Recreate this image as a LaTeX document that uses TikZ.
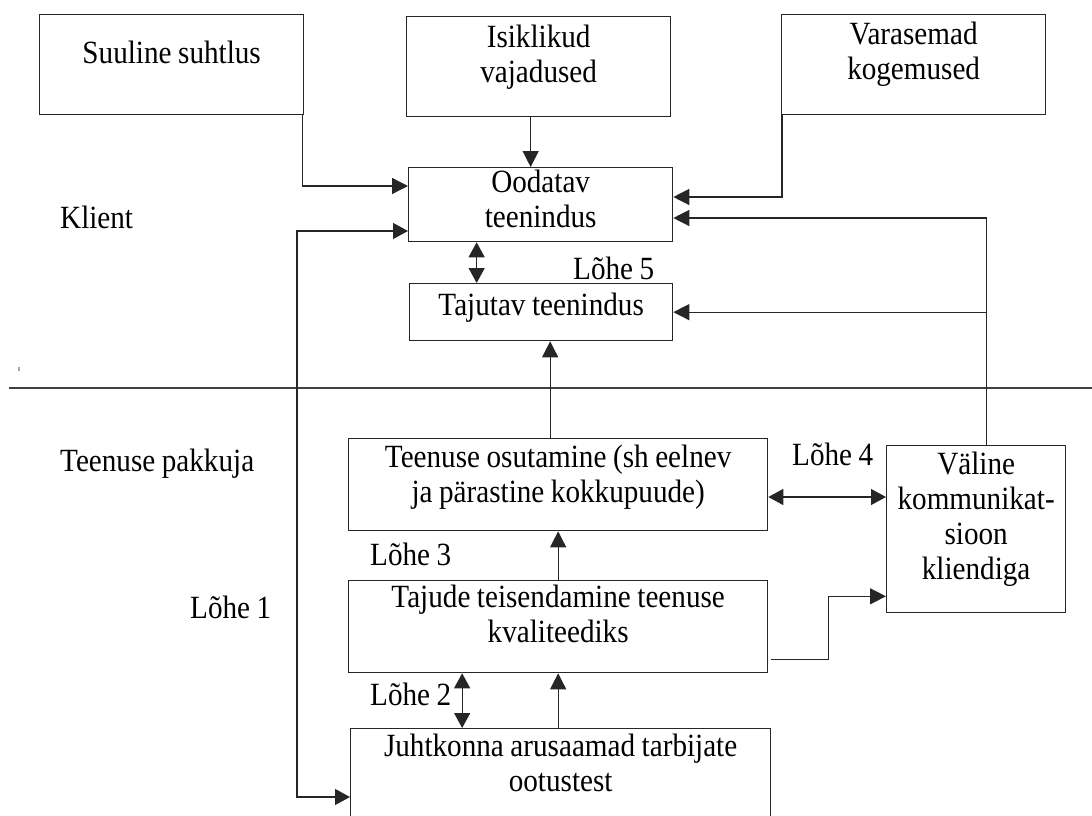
\documentclass[tikz,border=0pt]{standalone}
\usepackage{fontspec}
\setmainfont{Liberation Serif}[FakeStretch=0.9, WordSpace=0.9]
\usetikzlibrary{arrows.meta,positioning,calc}

\begin{document}
\begin{tikzpicture}[
        x=1pt, y=-1pt,
        font=\fontsize{32.4}{35}\selectfont,
        box/.style={draw=black!85, line width=1.3pt, align=flush center, inner sep=0pt, anchor=north west},
        arr/.style={draw=black!85, line width=1.3pt, -{Triangle[length=16pt, width=16pt]}},
        dbl/.style={draw=black!85, line width=1.3pt, {Triangle[length=15pt, width=16pt]}-{Triangle[length=15pt, width=16pt]}},
        lbl/.style={anchor=base west, inner sep=0pt},
    ]
    \clip (0,0) rectangle (1092,816);

    % Client side
    \node[box, text width=264pt, text height=49pt, text depth=51pt] (suuline) at (39,14) {Suuline suhtlus};
    \node[box, text width=264pt, text height=31pt, text depth=69pt] (isiklikud) at (406,16) {Isiklikud\\vajadused};
    \node[box, text width=264pt, text height=30pt, text depth=70pt] (varasemad) at (781,14) {Varasemad\\kogemused};
    \node[box, text width=264pt, text height=25pt, text depth=49pt] (oodatav) at (408,167) {Oodatav\\teenindus};
    \node[box, text width=263pt, text height=32pt, text depth=25pt] (tajutav) at (409,283) {Tajutav teenindus};

    % Divider
    \draw[line width=1.3pt, black!75] (9,388) -- (1092,388);
    \draw[line width=1.5pt, black!35] (19,367) -- (19,371);

    % Provider side
    \node[box, text width=419pt, text height=29pt, text depth=63pt] (osutamine) at (348,438) {Teenuse osutamine (sh eelnev\\ja pärastine kokkupuude)};
    \node[box, text width=419pt, text height=27pt, text depth=65pt] (tajude) at (348,580) {Tajude teisendamine teenuse\\kvaliteediks};
    \node[box, text width=420pt, text height=28pt, text depth=100pt] (juhtkonna) at (350,728) {Juhtkonna arusaamad tarbijate\\ootustest};
    \node[box, text width=179pt, text height=29pt, text depth=138pt] (valine) at (886,445) {Väline\\kommunikat-\\sioon\\kliendiga};

    % Labels
    \foreach \nm/\x/\y/\txt in {
        klient/60/228/Klient,
        pakkuja/60/471/Teenuse pakkuja,
        lohe1/190/618/Lõhe 1,
        lohe2/370/705/Lõhe 2,
        lohe3/370/565/Lõhe 3,
        lohe4/792/465/Lõhe 4,
        lohe5/573/279/Lõhe 5
    } {
        \node[lbl] (\nm) at (\x,\y) {\txt};
    }

    % Connectors
    \draw[arr] ([xshift=-2pt]suuline.south east) |- ([yshift=-19pt]oodatav.north west);
    \draw[arr] ([xshift=-8pt]isiklikud.south) -- ([xshift=-8pt]isiklikud.south |- oodatav.north);
    \draw[arr] ([xshift=1pt]varasemad.south west) |- ([yshift=-30pt]oodatav.north east);
    \draw[arr] ([xshift=10pt]valine.north) |- ([yshift=-51pt]oodatav.north east);
    \draw[arr] ([xshift=10pt]valine.north |- tajutav.east) -- (tajutav.east);
    \draw[dbl] ([xshift=-64pt]oodatav.south) -- ([xshift=-64pt]oodatav.south |- tajutav.north);
    \draw[arr] ([xshift=-8pt]osutamine.north) -- ([xshift=-8pt]osutamine.north |- tajutav.south);
    \draw[dbl] ([yshift=-59pt]osutamine.north east) -- ([yshift=-59pt]osutamine.north east -| valine.west);
    \draw[arr] (tajude.north) -- (tajude.north |- osutamine.south);
    \draw[arr] ([xshift=3pt, yshift=14pt]tajude.south east) -- ++(57,0) |- ([yshift=17pt]valine.south west);
    \draw[dbl] ([xshift=-96pt]tajude.south) -- ([xshift=-96pt]tajude.south |- juhtkonna.north);
    \draw[arr] (tajude.south |- juhtkonna.north) -- (tajude.south);
    \draw[dbl] ([yshift=-64pt]oodatav.north west) -| ([xshift=-53pt, yshift=-69pt]juhtkonna.north west) -- ([yshift=-69pt]juhtkonna.north west);
\end{tikzpicture}
\end{document}
